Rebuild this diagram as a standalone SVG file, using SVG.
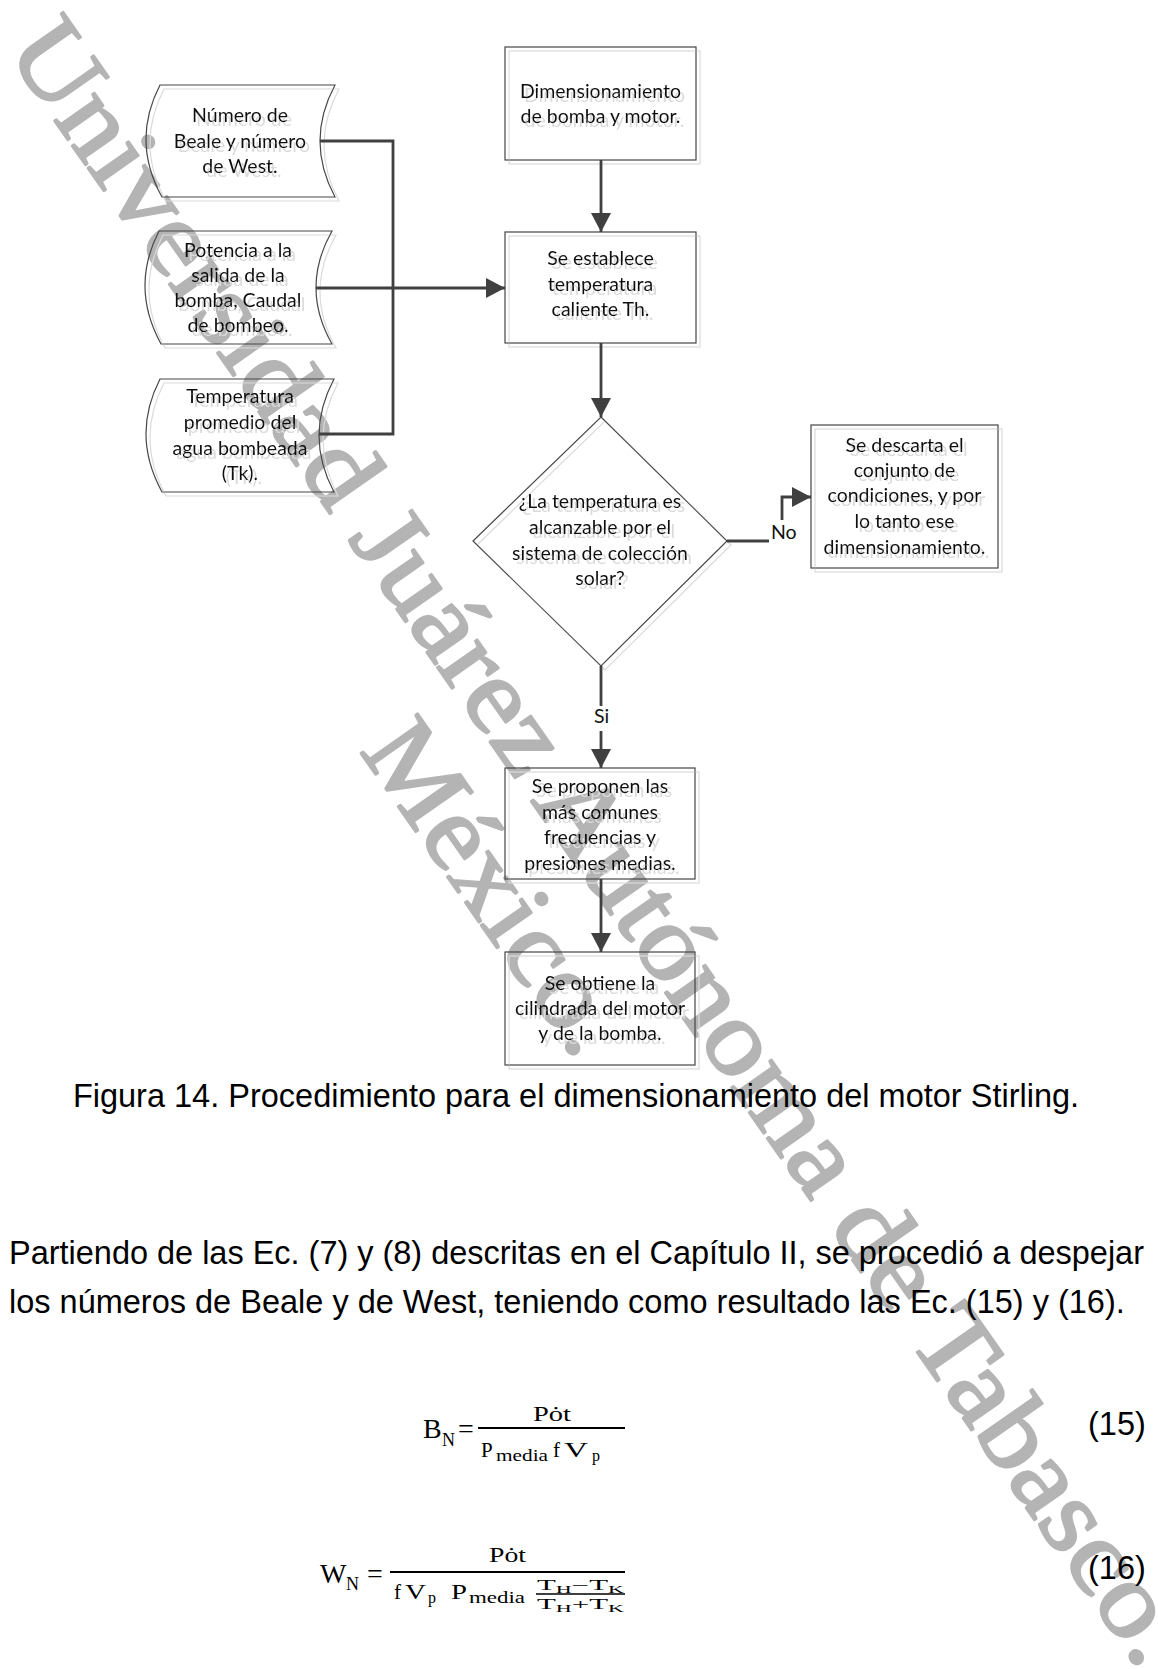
<svg xmlns="http://www.w3.org/2000/svg" width="1158" height="1669" viewBox="0 0 1158 1669">
  <defs>
    <style>
      .wm { font-family: "Liberation Serif", "Times New Roman", serif; fill: #b4b4b4; stroke: #b4b4b4; stroke-width: 2.5; stroke-linejoin: round; }
      .shape { fill: none; stroke: #474747; stroke-width: 1.2; }
      .lbl { font-family: Lato, "Open Sans", sans-serif; font-size: 19.5px; fill: #111111; text-anchor: middle; }
      .tag { font-family: Lato, "Open Sans", sans-serif; font-size: 19.5px; fill: #111111; }
      .conn { fill: none; stroke: #404040; stroke-width: 2.8; }
      .arrow { marker-end: url(#ah); }
      .body { font-family: "Liberation Sans", Arial, sans-serif; font-size: 32.5px; fill: #000000; }
      .math { font-family: "Liberation Serif", "DejaVu Serif", serif; fill: #000000; }
    </style>
    <marker id="ah" markerUnits="userSpaceOnUse" markerWidth="19" markerHeight="20" refX="19" refY="10" orient="auto">
      <path d="M0,0 L19,10 L0,20 Z" fill="#404040"/>
    </marker>
    <filter id="shadow" x="-10%" y="-10%" width="125%" height="125%">
      <feOffset in="SourceAlpha" dx="3.5" dy="4" result="off"/>
      <feFlood flood-color="#dadada"/>
      <feComposite in2="off" operator="in" result="sh"/>
      <feMerge>
        <feMergeNode in="sh"/>
        <feMergeNode in="SourceGraphic"/>
      </feMerge>
    </filter>
  </defs>

  <rect width="1158" height="1669" fill="#ffffff"/>

  <!-- diagonal watermark -->
  <g id="watermark" transform="translate(5,50) rotate(55)">
    <text class="wm" x="0" y="0" font-size="106" textLength="1980" lengthAdjust="spacingAndGlyphs">Universidad Juárez Autónoma de Tabasco.</text>
    <text class="wm" x="777" y="112" font-size="106" textLength="380" lengthAdjust="spacingAndGlyphs">México.</text>
  </g>

  <!-- input data shapes -->
  <g id="in-beale" filter="url(#shadow)">
    <path class="shape" d="M160,85 H335 Q305,141 335,197 H162 Q131,141 160,85 Z"/>
    <text class="lbl"><tspan x="240" y="122">Número de</tspan><tspan x="240" y="148">Beale y número</tspan><tspan x="240" y="173">de West.</tspan></text>
  </g>
  <g id="in-potencia" filter="url(#shadow)">
    <path class="shape" d="M159,231 H332 Q300,287.5 332,344 H161 Q130,287.5 159,231 Z"/>
    <text class="lbl"><tspan x="238" y="257">Potencia a la</tspan><tspan x="238" y="282">salida de la</tspan><tspan x="238" y="307">bomba, Caudal</tspan><tspan x="238" y="332">de bombeo.</tspan></text>
  </g>
  <g id="in-temperatura" filter="url(#shadow)">
    <path class="shape" d="M160,379 H334 Q304,435.5 334,492 H162 Q131,435.5 160,379 Z"/>
    <text class="lbl"><tspan x="240" y="403">Temperatura</tspan><tspan x="240" y="429">promedio del</tspan><tspan x="240" y="455">agua bombeada</tspan><tspan x="240" y="480">(Tk).</tspan></text>
  </g>

  <!-- process boxes -->
  <g id="dimensionamiento" filter="url(#shadow)">
    <rect class="shape" x="505" y="47" width="191" height="113"/>
    <text class="lbl"><tspan x="600.5" y="98">Dimensionamiento</tspan><tspan x="600.5" y="123">de bomba y motor.</tspan></text>
  </g>
  <g id="temperatura-th" filter="url(#shadow)">
    <rect class="shape" x="505" y="232" width="191" height="111"/>
    <text class="lbl"><tspan x="600.5" y="265">Se establece</tspan><tspan x="600.5" y="291">temperatura</tspan><tspan x="600.5" y="316">caliente Th.</tspan></text>
  </g>
  <g id="decision" filter="url(#shadow)">
    <path class="shape" d="M601,417 L727,541 L601,666 L473,541 Z"/>
    <text class="lbl"><tspan x="600" y="508">¿La temperatura es</tspan><tspan x="600" y="534">alcanzable por el</tspan><tspan x="600" y="560">sistema de colección</tspan><tspan x="600" y="585">solar?</tspan></text>
  </g>
  <g id="descarta" filter="url(#shadow)">
    <rect class="shape" x="811" y="425" width="187" height="143"/>
    <text class="lbl"><tspan x="904.5" y="452">Se descarta el</tspan><tspan x="904.5" y="477">conjunto de</tspan><tspan x="904.5" y="502">condiciones, y por</tspan><tspan x="904.5" y="528">lo tanto ese</tspan><tspan x="904.5" y="554">dimensionamiento.</tspan></text>
  </g>
  <g id="proponen" filter="url(#shadow)">
    <rect class="shape" x="505" y="768" width="190" height="111"/>
    <text class="lbl"><tspan x="600" y="793">Se proponen las</tspan><tspan x="600" y="819">más comunes</tspan><tspan x="600" y="844">frecuencias y</tspan><tspan x="600" y="870">presiones medias.</tspan></text>
  </g>
  <g id="cilindrada" filter="url(#shadow)">
    <rect class="shape" x="505" y="952" width="190" height="113"/>
    <text class="lbl"><tspan x="600" y="990">Se obtiene la</tspan><tspan x="600" y="1015">cilindrada del motor</tspan><tspan x="600" y="1040">y de la bomba.</tspan></text>
  </g>

  <!-- connectors -->
  <g id="connectors">
    <path class="conn" d="M320,141 H393 V434 H319"/>
    <path class="conn arrow" d="M316,288 H505"/>
    <path class="conn arrow" d="M601,160 V232"/>
    <path class="conn arrow" d="M601,343 V417"/>
    <path class="conn" d="M601,666 V706"/>
    <path class="conn arrow" d="M601,731 V768"/>
    <path class="conn arrow" d="M601,879 V952"/>
    <path class="conn" d="M727,541 H769"/>
    <path class="conn arrow" d="M782,520 V497 H811"/>
    <text class="tag" x="771" y="539">No</text>
    <text class="tag" x="601.5" y="723" text-anchor="middle">Si</text>
  </g>

  <!-- caption and paragraph -->
  <text class="body" x="576" y="1107" font-size="31.5" text-anchor="middle">Figura 14. Procedimiento para el dimensionamiento del motor Stirling.</text>
  <text class="body" x="9" y="1264" textLength="1135" lengthAdjust="spacing">Partiendo de las Ec. (7) y (8) descritas en el Capítulo II, se procedió a despejar</text>
  <text class="body" x="9" y="1313">los números de Beale y de West, teniendo como resultado las Ec. (15) y (16).</text>

  <!-- equation 15 -->
  <g id="eq15">
    <text class="math" x="423" y="1438" font-size="28">B</text>
    <text class="math" x="442" y="1446" font-size="18">N</text>
    <text class="math" x="458" y="1438" font-size="28">=</text>
    <line x1="478" y1="1428" x2="625" y2="1428" stroke="#000" stroke-width="2"/>
    <text class="math" x="533" y="1421" font-size="21" textLength="38" lengthAdjust="spacingAndGlyphs">Pȯt</text>
    <text class="math" x="481" y="1457" font-size="21">P</text>
    <text class="math" x="496" y="1461" font-size="16" textLength="52" lengthAdjust="spacingAndGlyphs">media</text>
    <text class="math" x="553" y="1457" font-size="21">f</text>
    <text class="math" x="564" y="1457" font-size="21" textLength="24" lengthAdjust="spacingAndGlyphs">V</text>
    <text class="math" x="592" y="1461" font-size="16">p</text>
    <text class="body" x="1088" y="1435" font-size="31">(15)</text>
  </g>

  <!-- equation 16 -->
  <g id="eq16">
    <text class="math" x="320" y="1583" font-size="28">W</text>
    <text class="math" x="346" y="1590" font-size="18">N</text>
    <text class="math" x="367" y="1583" font-size="28">=</text>
    <line x1="390" y1="1572" x2="625" y2="1572" stroke="#000" stroke-width="2"/>
    <text class="math" x="489" y="1562" font-size="21" textLength="37" lengthAdjust="spacingAndGlyphs">Pȯt</text>
    <text class="math" x="394" y="1599" font-size="21">f</text>
    <text class="math" x="405" y="1599" font-size="21" textLength="21" lengthAdjust="spacingAndGlyphs">V</text>
    <text class="math" x="428" y="1603" font-size="16">p</text>
    <text class="math" x="451" y="1599" font-size="21" textLength="16" lengthAdjust="spacingAndGlyphs">P</text>
    <text class="math" x="469" y="1603" font-size="16" textLength="56" lengthAdjust="spacingAndGlyphs">media</text>
    <line x1="536" y1="1594" x2="625" y2="1594" stroke="#000" stroke-width="1.5"/>
    <text class="math" x="537" y="1590" font-size="14" textLength="87" lengthAdjust="spacingAndGlyphs">T<tspan font-size="10" dy="3">H</tspan><tspan dy="-3">−T</tspan><tspan font-size="10" dy="3">K</tspan></text>
    <text class="math" x="537" y="1609" font-size="14" textLength="87" lengthAdjust="spacingAndGlyphs">T<tspan font-size="10" dy="3">H</tspan><tspan dy="-3">+T</tspan><tspan font-size="10" dy="3">K</tspan></text>
    <text class="body" x="1088" y="1579" font-size="31">(16)</text>
  </g>
</svg>
